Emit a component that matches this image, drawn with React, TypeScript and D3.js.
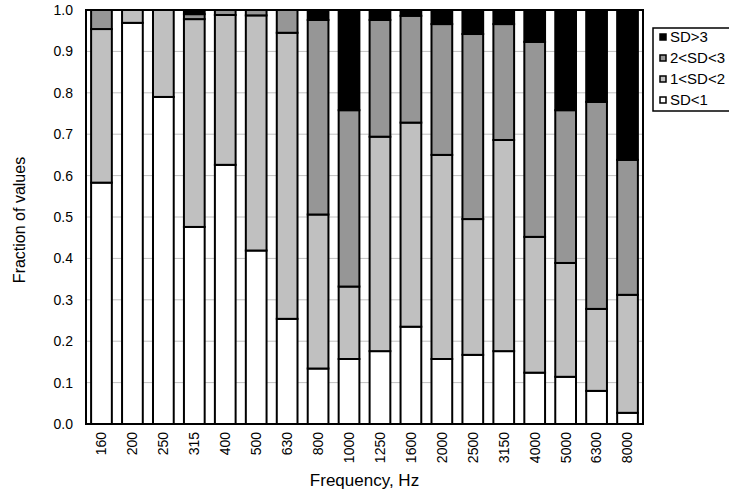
import React from 'react';
import * as d3 from 'd3';

const FREQUENCIES = ['160', '200', '250', '315', '400', '500', '630', '800', '1000', '1250', '1600', '2000', '2500', '3150', '4000', '5000', '6300', '8000'];

// fraction of values in each band, per frequency
const SD_LT1 = [0.583, 0.969, 0.790, 0.476, 0.626, 0.419, 0.254, 0.134, 0.157, 0.176, 0.235, 0.157, 0.167, 0.176, 0.124, 0.114, 0.080, 0.027];
const SD_1_2 = [0.371, 0.031, 0.210, 0.502, 0.362, 0.568, 0.691, 0.372, 0.175, 0.518, 0.493, 0.493, 0.328, 0.510, 0.328, 0.275, 0.198, 0.285];
const SD_2_3 = [0.046, 0, 0, 0.012, 0.012, 0.013, 0.055, 0.470, 0.426, 0.282, 0.258, 0.316, 0.447, 0.280, 0.471, 0.369, 0.500, 0.326];
const SD_GT3 = [0, 0, 0, 0.010, 0, 0, 0, 0.024, 0.242, 0.024, 0.014, 0.034, 0.058, 0.034, 0.077, 0.242, 0.222, 0.362];

const SERIES = [
  { key: 'SD<1', label: 'SD<1', values: SD_LT1, color: '#FFFFFF' },
  { key: '1<SD<2', label: '1<SD<2', values: SD_1_2, color: '#C0C0C0' },
  { key: '2<SD<3', label: '2<SD<3', values: SD_2_3, color: '#969696' },
  { key: 'SD>3', label: 'SD>3', values: SD_GT3, color: '#000000' },
];

const Y_TICKS = d3.range(0, 11).map(i => i / 10);

const FONT = '"Liberation Sans", Arial, sans-serif';

export default function App() {
  const width = 729;
  const height = 493;
  const plot = { left: 86, right: 643, top: 10, bottom: 424 };

  const x = d3.scaleBand<string>()
    .domain(FREQUENCIES)
    .range([plot.left, plot.right])
    .paddingInner(0.33)
    .paddingOuter(0.165);

  const y = d3.scaleLinear().domain([0, 1]).range([plot.bottom, plot.top]);

  const rows = FREQUENCIES.map((f, i) => {
    const r: Record<string, any> = { f };
    SERIES.forEach(s => { r[s.key] = s.values[i]; });
    return r;
  });
  const stacked = d3.stack<Record<string, any>>().keys(SERIES.map(s => s.key))(rows);

  const legendItems = [...SERIES].reverse();

  return (
    <svg width={width} height={height} style={{ position: 'absolute', left: 0, top: 0, background: '#fff' }}>
      {/* gridlines */}
      {Y_TICKS.map(t => (
        <line key={t} x1={plot.left} x2={plot.right} y1={y(t)} y2={y(t)} stroke="#C0C0C0" strokeWidth={1} />
      ))}

      {/* bars */}
      {stacked.map((layer, li) => (
        <g key={layer.key} fill={SERIES[li].color}>
          {layer.map((d, i) => {
            const h = y(d[0]) - y(d[1]);
            if (h <= 0.01) return null;
            return (
              <rect
                key={i}
                x={x(FREQUENCIES[i])}
                y={y(d[1])}
                width={x.bandwidth()}
                height={h}
                stroke="#000"
                strokeWidth={2}
              />
            );
          })}
        </g>
      ))}

      {/* frame */}
      <rect x={plot.left} y={plot.top} width={plot.right - plot.left} height={plot.bottom - plot.top}
        fill="none" stroke="#000" strokeWidth={2} />

      {/* y axis labels */}
      {Y_TICKS.map(t => (
        <text key={t} x={73} y={y(t)} dy="0.35em" textAnchor="end" fontFamily={FONT} fontSize={14} fill="#000">
          {t.toFixed(1)}
        </text>
      ))}
      <text transform={`translate(25,${(plot.top + plot.bottom) / 2 + 3}) rotate(-90)`} textAnchor="middle"
        fontFamily={FONT} fontSize={16} fill="#000">Fraction of values</text>

      {/* x axis labels */}
      {FREQUENCIES.map(f => (
        <text key={f}
          transform={`translate(${(x(f) ?? 0) + x.bandwidth() / 2},432) rotate(-90)`}
          textAnchor="end" dy="0.35em" fontFamily={FONT} fontSize={14} fill="#000">
          {f}
        </text>
      ))}
      <text x={(plot.left + plot.right) / 2} y={486} textAnchor="middle" fontFamily={FONT} fontSize={17} fill="#000">
        Frequency, Hz
      </text>

      {/* legend */}
      <rect x={653} y={28} width={90} height={83} fill="#fff" stroke="#000" strokeWidth={1.5} />
      {legendItems.map((s, i) => (
        <g key={s.key} transform={`translate(660,${37 + i * 21})`}>
          <rect x={0} y={-3} width={6} height={6} fill={s.color} stroke="#000" strokeWidth={1.5} />
          <text x={10} y={0} dy="0.35em" fontFamily={FONT} fontSize={15} fill="#000">{s.label}</text>
        </g>
      ))}
    </svg>
  );
}
